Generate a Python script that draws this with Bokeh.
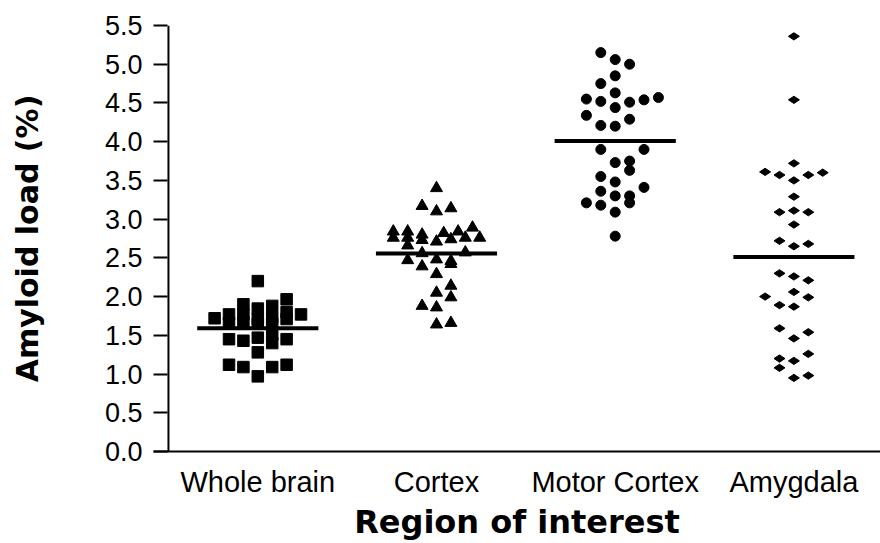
import numpy as np
from bokeh.plotting import figure
from bokeh.models import Range1d, FixedTicker, NumeralTickFormatter, ColumnDataSource, Span
from bokeh.embed import file_html
from bokeh.resources import INLINE

# ---------------- data ----------------
categories = ["Whole brain", "Cortex", "Motor Cortex", "Amygdala"]
y_ticks = [0.0, 0.5, 1.0, 1.5, 2.0, 2.5, 3.0, 3.5, 4.0, 4.5, 5.0, 5.5]

# values (amyloid load %) and the column slot each point occupies in its group
whole_brain_values = [1.72, 1.77, 1.66, 1.90, 1.77, 1.67, 2.20, 1.845, 1.71, 1.65,
                      1.88, 1.73, 1.65, 1.965, 1.80, 1.71, 1.77,
                      1.45, 1.12, 1.43, 1.09, 1.47, 1.28, 0.97, 1.51, 1.40, 1.09, 1.45, 1.12]
whole_brain_slots = [-3, -2, -2, -1, -1, -1, 0, 0, 0, 0,
                     1, 1, 1, 2, 2, 2, 3,
                     -2, -2, -1, -1, 0, 0, 0, 1, 1, 1, 2, 2]

cortex_values = [3.40, 3.17, 3.14, 3.10,
                 2.84, 2.76, 2.84, 2.76, 2.66, 2.80, 2.73, 2.71, 2.82, 2.84, 2.89, 2.74, 2.76, 2.76,
                 2.56, 2.57,
                 2.47, 2.39, 2.48, 2.46, 2.42,
                 2.29, 2.14, 2.05, 1.99, 1.88, 1.86, 1.64, 1.66]
cortex_slots = [0, -1, 1, 0,
                -3, -3, -2, -2, -2, -1, -1, 0, 0.5, 1.5, 2.5, 1, 2, 3,
                -1, 2,
                -2, -1, 0, 1, 1,
                0, 1, 0, 1, -1, 0, 0, 1]

motor_cortex_values = [5.15, 5.06, 5.00, 4.85, 4.75, 4.63, 4.55, 4.52, 4.51, 4.54, 4.57,
                       4.44, 4.34, 4.21, 4.20, 4.29,
                       3.90, 3.90, 3.73, 3.75, 3.63, 3.55, 3.48, 3.36, 3.41, 3.30, 3.30,
                       3.21, 3.18, 3.21, 3.09, 2.78]
motor_cortex_slots = [-1, 0, 1, 0, -1, 0, -2, -1, 1, 2, 3,
                      0, -2, -1, 0, 1,
                      -1, 2, 0, 1, 1, -1, 0, -1, 2, 0, 1,
                      -2, -1, 1, 0, 0]

amygdala_values = [5.36, 4.54, 3.72, 3.61, 3.57, 3.50, 3.57, 3.60, 3.29, 3.09, 3.11, 3.09,
                   2.93, 2.72, 2.65, 2.68,
                   2.30, 2.26, 2.21, 2.06, 2.00, 1.99, 1.89, 1.87, 1.59, 1.46, 1.54,
                   1.20, 1.17, 1.26, 1.08, 0.95, 0.98]
amygdala_slots = [0, 0, 0, -2, -1, 0, 1, 2, 0, -1, 0, 1,
                  0, -1, 0, 1,
                  -1, 0, 1, 0, -2, 1, -1, 0, -1, 0, 1,
                  -1, 0, 1, -1, 0, 1]

group_means = [1.59, 2.555, 4.01, 2.51]

# ---------------- figure ----------------
SLOT = 0.0806
HALF = 0.339
Y_AXIS_AT = 0.5

p = figure(width=880, height=543,
           x_range=Range1d(0.4163, 4.4846), y_range=Range1d(0, 5.5),
           output_backend="svg", toolbar_location=None,
           min_border_left=153, min_border_right=0, min_border_top=25, min_border_bottom=90)
p.outline_line_color = None
p.grid.visible = False
p.background_fill_color = "white"

# vertical axis line (sits a little right of the frame edge, as in the original)
p.add_layout(Span(location=Y_AXIS_AT, dimension="height", line_color="black", line_width=2))

# mean lines
centers = list(range(1, len(categories) + 1))
p.segment(x0=[c - HALF for c in centers], x1=[c + HALF for c in centers],
          y0=group_means, y1=group_means, line_width=4, line_color="black")

groups = [
    (whole_brain_values, whole_brain_slots, "square", 11.5, 0.0),
    (cortex_values, cortex_slots, "triangle", 12, 0.0),
    (motor_cortex_values, motor_cortex_slots, "circle", 10, 0.0),
    (amygdala_values, amygdala_slots, "diamond", 11, np.pi / 2),
]
for i, (vals, slots, marker, size, ang) in enumerate(groups):
    src = ColumnDataSource(dict(x=[centers[i] + s * SLOT for s in slots], y=vals))
    p.scatter("x", "y", source=src, marker=marker, size=size, angle=ang,
              fill_color="black", line_color="black")

# y axis
ya = p.yaxis[0]
ya.ticker = FixedTicker(ticks=y_ticks)
ya.formatter = NumeralTickFormatter(format="0.0")
ya.axis_line_color = None
ya.major_tick_line_width = 2
ya.major_tick_out = 0
ya.major_tick_in = 14
ya.minor_tick_out = 0
ya.minor_tick_in = 0
ya.major_label_standoff = 11
ya.major_label_text_font = "Liberation Sans"
ya.major_label_text_font_size = "27px"
ya.major_label_text_color = "black"
ya.axis_label = "Amyloid load (%)"
ya.axis_label_text_font = "DejaVu Sans"
ya.axis_label_text_font_style = "bold"
ya.axis_label_text_font_size = "30px"
ya.axis_label_text_color = "black"
ya.axis_label_standoff = 57

# x axis
xa = p.xaxis[0]
xa.ticker = FixedTicker(ticks=centers)
xa.major_label_overrides = {c: name for c, name in zip(centers, categories)}
xa.axis_line_width = 2
xa.major_tick_out = 0
xa.major_tick_in = 0
xa.minor_tick_out = 0
xa.minor_tick_in = 0
xa.major_label_standoff = 14
xa.major_label_text_font = "Liberation Sans"
xa.major_label_text_font_size = "29px"
xa.major_label_text_color = "black"
xa.major_label_text_line_height = 1.0
xa.axis_label = "Region of interest"
xa.axis_label_text_font = "DejaVu Sans"
xa.axis_label_text_font_style = "bold"
xa.axis_label_text_font_size = "32px"
xa.axis_label_text_color = "black"
xa.axis_label_text_line_height = 1.0
xa.axis_label_standoff = 2

open("out.html", "w").write(file_html(p, INLINE))
